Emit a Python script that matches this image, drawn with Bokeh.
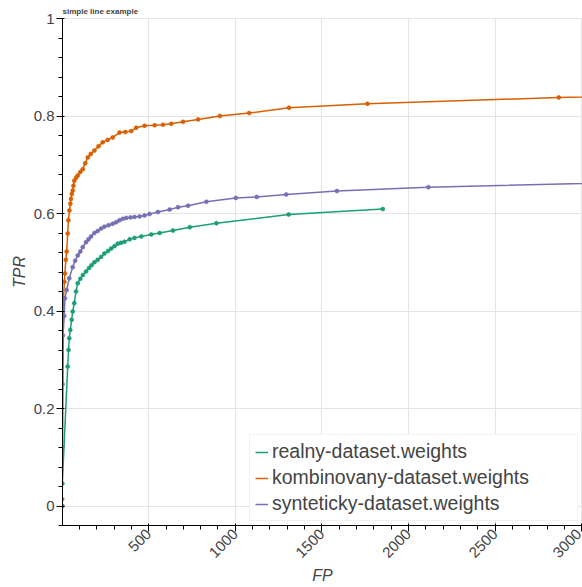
from bokeh.plotting import figure
from bokeh.models import Range1d, NumeralTickFormatter
from bokeh.embed import file_html
from bokeh.resources import INLINE

# ROC-style curves: false positives vs. true positive rate per weights file
realny_fp = [0, 1, 32, 37, 41, 47, 55, 61, 70, 80, 90, 105, 120, 138, 155, 170,
             186, 205, 225, 244, 265, 283, 302, 321, 340, 360, 390, 418, 457,
             515, 563, 640, 737, 891, 1308, 1852]
realny_tpr = [0, 0.046, 0.286, 0.320, 0.344, 0.361, 0.382, 0.399, 0.416, 0.440,
              0.457, 0.466, 0.474, 0.481, 0.488, 0.494, 0.500, 0.505, 0.511,
              0.518, 0.523, 0.528, 0.533, 0.538, 0.540, 0.542, 0.547, 0.550,
              0.553, 0.557, 0.560, 0.565, 0.572, 0.580, 0.598, 0.609]

kombinovany_fp = [0, 0, 8, 13, 16, 21, 26, 32, 36, 42, 47, 51, 56, 61, 65, 70,
                  80, 90, 105, 119, 133, 148, 165, 186, 210, 234, 263, 292, 331,
                  365, 399, 428, 476, 534, 582, 630, 698, 785, 911, 1080, 1310,
                  1763, 2868, 3900]
kombinovany_tpr = [0, 0.014, 0.426, 0.460, 0.477, 0.505, 0.522, 0.559, 0.586,
                   0.606, 0.620, 0.630, 0.640, 0.647, 0.657, 0.667, 0.673, 0.678,
                   0.685, 0.691, 0.703, 0.715, 0.722, 0.729, 0.738, 0.746, 0.751,
                   0.756, 0.766, 0.767, 0.769, 0.776, 0.780, 0.781, 0.782, 0.784,
                   0.788, 0.793, 0.800, 0.806, 0.817, 0.825, 0.838, 0.846]

synteticky_fp = [0, 1, 2, 4, 12, 16, 26, 41, 61, 75, 90, 105, 119, 138, 152, 167,
                 186, 205, 225, 244, 268, 292, 312, 331, 350, 370, 395, 418, 447,
                 476, 505, 553, 621, 669, 727, 833, 1003, 1124, 1294, 1587, 2115,
                 3800]
synteticky_tpr = [0, 0.12, 0.25, 0.35, 0.390, 0.426, 0.443, 0.467, 0.490, 0.503,
                  0.514, 0.522, 0.531, 0.541, 0.547, 0.553, 0.560, 0.564, 0.569,
                  0.573, 0.576, 0.579, 0.582, 0.586, 0.589, 0.591, 0.592, 0.593,
                  0.594, 0.596, 0.599, 0.603, 0.608, 0.613, 0.616, 0.624, 0.632,
                  0.634, 0.639, 0.646, 0.654, 0.668]

series_names = ["realny-dataset.weights", "kombinovany-dataset.weights",
                "synteticky-dataset.weights"]
series_colors = ["#1b9e77", "#d95f02", "#7570b3"]

FONT = "Liberation Sans"

p = figure(width=582, height=587, title="simple line example",
           x_axis_label="FP", y_axis_label="TPR",
           x_range=Range1d(2, 3005), y_range=Range1d(-0.04, 1.0),
           output_backend="svg", toolbar_location=None,
           min_border_left=62, min_border_right=0,
           min_border_top=18, min_border_bottom=61)

p.title.text_font = FONT
p.title.text_font_size = "8px"
p.title.text_font_style = "bold"
p.title.text_color = "#444444"
p.title.standoff = 6

for ax in (p.xaxis, p.yaxis):
    ax.major_label_text_font = FONT
    ax.major_label_text_font_size = "15px"
    ax.major_label_text_color = "#444444"
    ax.axis_label_text_font = FONT
    ax.axis_label_text_font_size = "16px"
    ax.axis_label_text_color = "#444444"
    ax.axis_line_color = "black"

p.xaxis.major_label_orientation = 0.785398
p.xaxis.major_label_standoff = 0
p.xaxis.axis_label_standoff = 2
p.yaxis.major_label_standoff = 2
p.yaxis.axis_label_standoff = 3
p.yaxis.formatter = NumeralTickFormatter(format="0.[0]")

for name, color, xs, ys in zip(
        series_names, series_colors,
        [realny_fp, kombinovany_fp, synteticky_fp],
        [realny_tpr, kombinovany_tpr, synteticky_tpr]):
    p.line(xs, ys, line_color=color, line_width=1.5, legend_label=name)
    p.scatter(xs, ys, marker="circle", size=4, fill_color=color,
              line_color=color, line_alpha=0.6)

p.legend.location = "bottom_right"
p.legend.margin = 4
p.legend.padding = 5
p.legend.spacing = 3
p.legend.label_standoff = 4
p.legend.glyph_width = 13
p.legend.glyph_height = 10
p.legend.label_width = 300
p.legend.label_text_font = FONT
p.legend.label_text_font_size = "19.5px"
p.legend.label_text_color = "#444444"
p.legend.border_line_color = "#e5e5e5"
p.legend.background_fill_alpha = 0.9

open("out.html", "w").write(file_html(p, INLINE))
